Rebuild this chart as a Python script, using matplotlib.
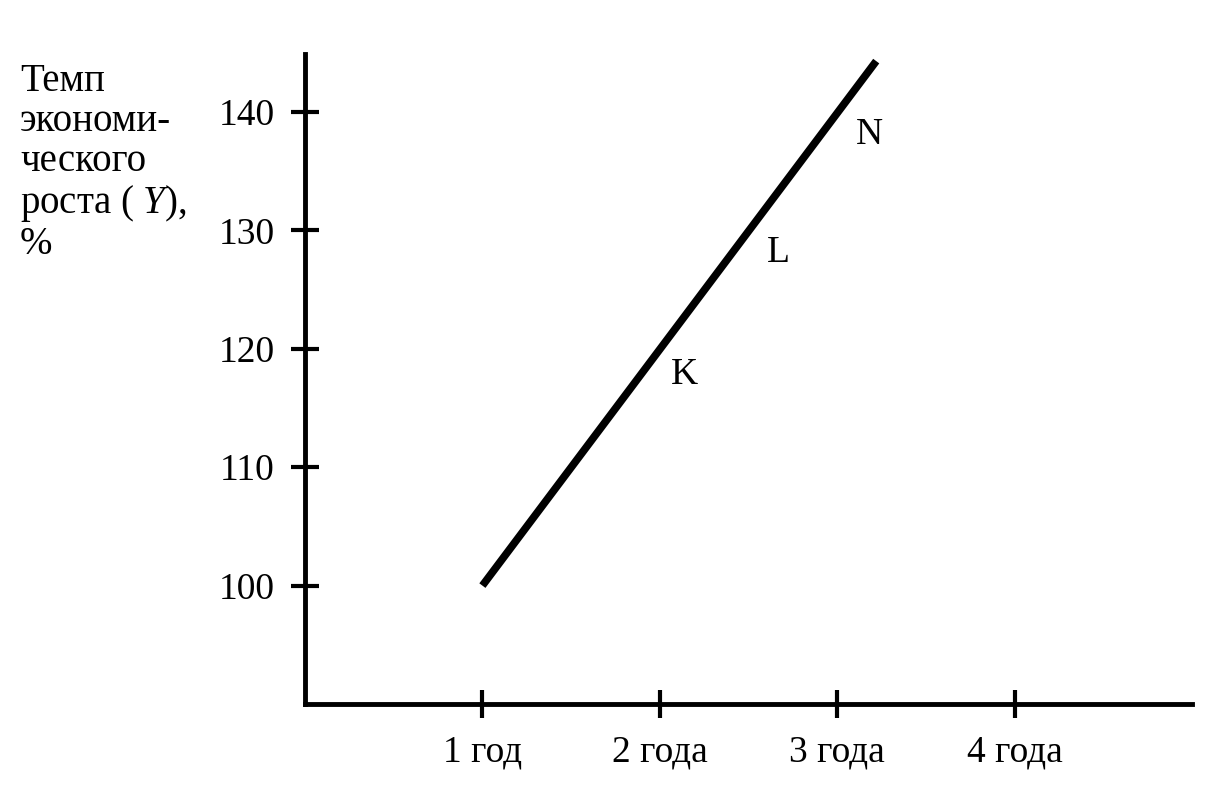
import matplotlib
matplotlib.use('Agg')
import matplotlib.pyplot as plt

plt.rcParams['font.family'] = ['Liberation Serif', 'DejaVu Serif']
plt.rcParams['mathtext.fontset'] = 'custom'
plt.rcParams['mathtext.rm'] = 'Liberation Serif'
plt.rcParams['mathtext.it'] = 'Liberation Serif:italic'

# data
line_x = [1.0, 3.22]
line_y = [100.0, 144.3]
point_labels = ['K', 'L', 'N']
point_x = [2.14, 2.67, 3.18]
point_y = [117.8, 128.1, 138.1]
x_ticks = [1, 2, 3, 4]
x_tick_labels = ['1 год', '2 года', '3 года', '4 года']
y_ticks = [100, 110, 120, 130, 140]

fig = plt.figure(figsize=(12.19, 7.90), dpi=100)
ax = fig.add_axes([305 / 1219, 1 - 704 / 790, (1192 - 305) / 1219, (704 - 54) / 790])

ax.plot(line_x, line_y, color='black', linewidth=5.5, solid_capstyle='butt')

for lab, px, py in zip(point_labels, point_x, point_y):
    ax.text(px, py, lab, fontsize=27, ha='center', va='center')

ax.set_xlim(0, 5)
ax.set_ylim(90, 144.9)
ax.set_xticks(x_ticks)
ax.set_xticklabels(x_tick_labels)
ax.set_yticks(y_ticks)

for side in ['top', 'right']:
    ax.spines[side].set_visible(False)
for side in ['left', 'bottom']:
    ax.spines[side].set_linewidth(3.5)

ax.tick_params(axis='both', direction='inout', length=20, width=3,
               labelsize=27, pad=12)

fig.text(20 / 1219, 1 - 63 / 790,
         'Темп\nэкономи-\nческого\nроста ( $\\mathit{Y}$),\n%',
         fontsize=28, ha='left', va='top', linespacing=1.1)

fig.savefig('out.png', dpi=100, facecolor='white')
